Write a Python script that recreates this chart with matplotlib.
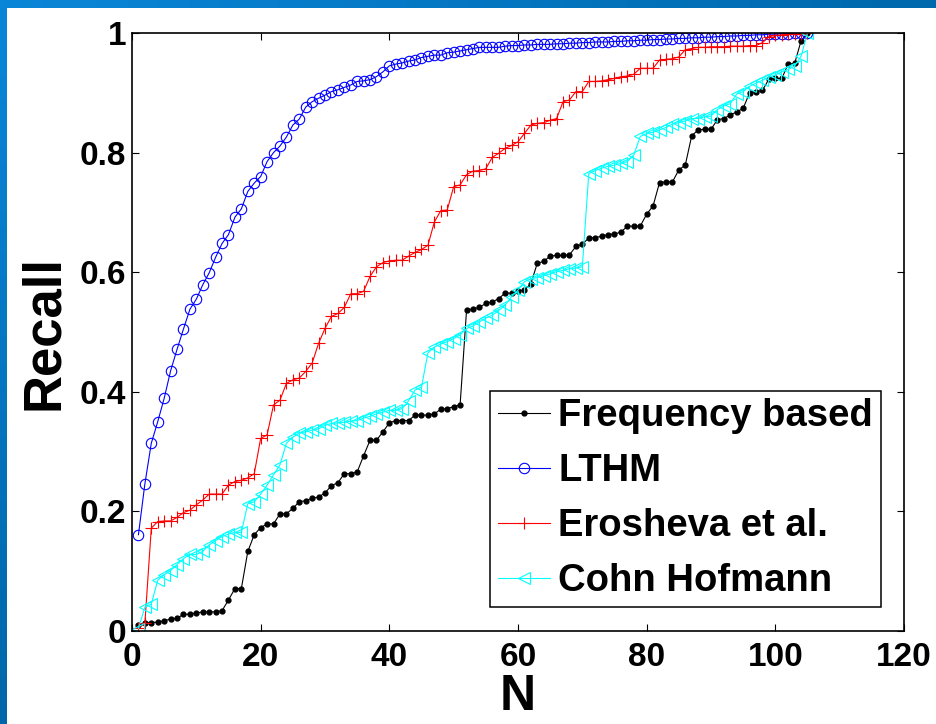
import numpy as np
import matplotlib
matplotlib.use("Agg")
import matplotlib.pyplot as plt

plt.rcParams['font.family'] = ['Liberation Sans', 'DejaVu Sans']
plt.rcParams['font.weight'] = 'bold'

# recall values, N = 1..105
freq = [0.010, 0.013, 0.014, 0.015, 0.017, 0.020, 0.021, 0.028, 0.028, 0.030,
        0.032, 0.032, 0.032, 0.034, 0.052, 0.071, 0.071, 0.133, 0.161, 0.173,
        0.179, 0.179, 0.196, 0.196, 0.205, 0.216, 0.218, 0.222, 0.224, 0.231,
        0.243, 0.248, 0.263, 0.263, 0.266, 0.293, 0.319, 0.319, 0.333, 0.348,
        0.352, 0.352, 0.352, 0.361, 0.361, 0.361, 0.363, 0.371, 0.372, 0.375,
        0.378, 0.536, 0.539, 0.541, 0.548, 0.550, 0.556, 0.565, 0.565, 0.569,
        0.570, 0.581, 0.615, 0.618, 0.627, 0.628, 0.628, 0.629, 0.643, 0.647,
        0.657, 0.658, 0.660, 0.663, 0.664, 0.667, 0.677, 0.677, 0.677, 0.697,
        0.711, 0.750, 0.751, 0.751, 0.771, 0.779, 0.828, 0.838, 0.839, 0.839,
        0.855, 0.857, 0.863, 0.868, 0.874, 0.900, 0.902, 0.904, 0.923, 0.924,
        0.924, 0.948, 0.949, 0.987, 1.000]

lthm = [0.161, 0.246, 0.314, 0.350, 0.389, 0.435, 0.471, 0.505, 0.538, 0.555,
        0.579, 0.599, 0.625, 0.648, 0.663, 0.692, 0.706, 0.735, 0.749, 0.760,
        0.785, 0.800, 0.811, 0.826, 0.846, 0.856, 0.876, 0.885, 0.891, 0.896,
        0.902, 0.905, 0.909, 0.913, 0.919, 0.920, 0.922, 0.927, 0.935, 0.945,
        0.948, 0.950, 0.953, 0.955, 0.959, 0.961, 0.963, 0.963, 0.967, 0.968,
        0.970, 0.972, 0.974, 0.976, 0.976, 0.976, 0.976, 0.978, 0.979, 0.979,
        0.980, 0.980, 0.981, 0.981, 0.981, 0.982, 0.982, 0.983, 0.983, 0.984,
        0.984, 0.985, 0.985, 0.985, 0.986, 0.986, 0.987, 0.987, 0.988, 0.988,
        0.989, 0.989, 0.990, 0.990, 0.991, 0.991, 0.992, 0.992, 0.993, 0.993,
        0.994, 0.994, 0.995, 0.995, 0.996, 0.996, 0.997, 0.997, 0.998, 0.998,
        0.999, 0.999, 1.000, 1.000, 1.000]

erosheva = [0.005, 0.013, 0.172, 0.183, 0.184, 0.184, 0.190, 0.198, 0.202, 0.211,
            0.219, 0.229, 0.229, 0.229, 0.244, 0.250, 0.252, 0.256, 0.263, 0.322,
            0.328, 0.378, 0.386, 0.414, 0.420, 0.423, 0.434, 0.448, 0.481, 0.506,
            0.526, 0.531, 0.541, 0.564, 0.564, 0.568, 0.593, 0.609, 0.616, 0.619,
            0.620, 0.620, 0.627, 0.633, 0.638, 0.645, 0.684, 0.703, 0.704, 0.743,
            0.746, 0.763, 0.769, 0.770, 0.773, 0.792, 0.799, 0.807, 0.812, 0.818,
            0.832, 0.846, 0.849, 0.850, 0.854, 0.857, 0.885, 0.888, 0.902, 0.902,
            0.919, 0.919, 0.920, 0.922, 0.924, 0.927, 0.928, 0.931, 0.941, 0.941,
            0.941, 0.955, 0.956, 0.957, 0.960, 0.972, 0.974, 0.976, 0.976, 0.977,
            0.977, 0.977, 0.978, 0.978, 0.978, 0.979, 0.979, 0.984, 0.994, 0.996,
            0.997, 0.998, 0.998, 0.999, 1.000]

cohn = [0.004, 0.040, 0.045, 0.085, 0.094, 0.101, 0.111, 0.121, 0.128, 0.128,
        0.133, 0.144, 0.151, 0.158, 0.162, 0.165, 0.165, 0.213, 0.216, 0.229,
        0.244, 0.261, 0.278, 0.314, 0.324, 0.331, 0.333, 0.336, 0.338, 0.344,
        0.347, 0.348, 0.349, 0.351, 0.352, 0.356, 0.359, 0.363, 0.366, 0.369,
        0.369, 0.372, 0.385, 0.403, 0.408, 0.465, 0.475, 0.480, 0.484, 0.489,
        0.495, 0.506, 0.510, 0.517, 0.523, 0.528, 0.536, 0.545, 0.559, 0.570,
        0.584, 0.589, 0.591, 0.594, 0.597, 0.601, 0.603, 0.606, 0.607, 0.609,
        0.765, 0.770, 0.774, 0.777, 0.779, 0.782, 0.785, 0.796, 0.827, 0.832,
        0.834, 0.838, 0.842, 0.848, 0.850, 0.853, 0.857, 0.857, 0.860, 0.861,
        0.872, 0.878, 0.882, 0.898, 0.902, 0.911, 0.916, 0.921, 0.926, 0.930,
        0.935, 0.939, 0.945, 0.961, 1.000]

N = np.arange(1, len(freq) + 1)
labels = ['Frequency based', 'LTHM', 'Erosheva et al.', 'Cohn Hofmann']

fig = plt.figure(figsize=(9.37, 7.24), dpi=100)
fig.patch.set_facecolor('white')

# blue slide border (top and left)
top = fig.add_axes([0, 1 - 8 / 724, 1, 8 / 724])
top.imshow(np.linspace(0, 1, 256)[None, :], aspect='auto',
           cmap=matplotlib.colors.LinearSegmentedColormap.from_list('t', ['#0a86d8', '#0068ac']))
top.axis('off')
left = fig.add_axes([0, 0, 7 / 937, 1 - 8 / 724])
left.imshow(np.linspace(0, 1, 256)[:, None], aspect='auto',
            cmap=matplotlib.colors.LinearSegmentedColormap.from_list('l', ['#0a86d8', '#0066aa']))
left.axis('off')

ax = fig.add_axes([132 / 937, 1 - 631 / 724, 772 / 937, 598 / 724])
ax.plot(N, freq, '-o', color='k', lw=0.8, ms=3.5, label=labels[0])
ax.plot(N, lthm, '-o', color='#0000ff', lw=0.8, ms=7.5, mfc='none', mew=0.8, label=labels[1])
ax.plot(N, erosheva, '-+', color='#ff0000', lw=0.8, ms=9, mew=0.8, label=labels[2])
ax.plot(N, cohn, '-<', color='#00ffff', lw=0.8, ms=8, mfc='none', mew=0.8, label=labels[3])

ax.set_xlim(0, 120)
ax.set_ylim(0, 1)
ax.set_xticks(np.arange(0, 121, 20))
ax.set_yticks([0, 0.2, 0.4, 0.6, 0.8, 1])
ax.set_yticklabels(['0', '0.2', '0.4', '0.6', '0.8', '1'])
ax.tick_params(direction='in', top=True, right=True, length=5, width=0.8,
               labelsize=24, pad=4)
ax.tick_params(axis='x', pad=8)
for s in ax.spines.values():
    s.set_linewidth(1.2)

ax.set_xlabel('N', fontsize=36, fontweight='bold', labelpad=1)
ax.set_ylabel('Recall', fontsize=38, fontweight='bold', labelpad=8)

leg = ax.legend(loc='lower right', bbox_to_anchor=(0.970, 0.040), borderaxespad=0,
                fontsize=27.5, numpoints=1, handlelength=1.36, handletextpad=0.22,
                labelspacing=0.5, borderpad=0.2, fancybox=False, framealpha=1)
leg.get_frame().set_edgecolor('k')
leg.get_frame().set_linewidth(1.1)

fig.savefig('out.png', dpi=100)
